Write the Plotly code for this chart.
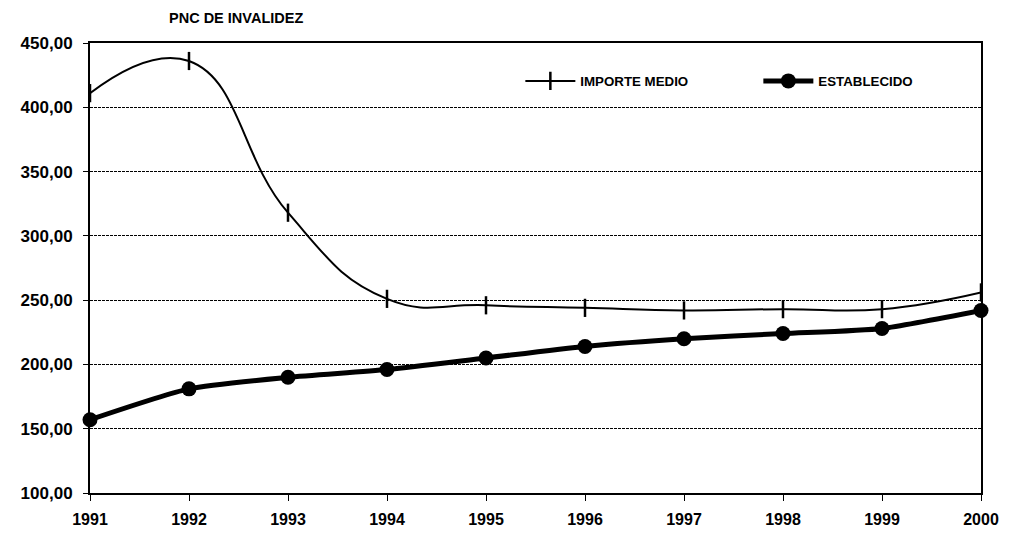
import plotly.graph_objects as go

years = [1991, 1992, 1993, 1994, 1995, 1996, 1997, 1998, 1999, 2000]
importe_medio = [411, 436, 318, 251, 246, 244, 242, 243, 243, 256]
establecido = [157, 181, 190, 196, 205, 214, 220, 224, 228, 242]
y_ticks = [100, 150, 200, 250, 300, 350, 400, 450]

FONT = "Liberation Sans, Arial"

fig = go.Figure()
fig.add_trace(go.Scatter(
    x=years, y=importe_medio, name="<b>IMPORTE MEDIO</b>",
    mode="lines+markers",
    line=dict(color="black", width=2, shape="spline", smoothing=1.3),
    marker=dict(symbol="line-ns", size=13, color="black",
                line=dict(color="black", width=2.5)),
    cliponaxis=False,
))
fig.add_trace(go.Scatter(
    x=years, y=establecido, name="<b>ESTABLECIDO</b>",
    mode="lines+markers",
    line=dict(color="black", width=5, shape="spline", smoothing=0.6),
    marker=dict(symbol="circle", size=15, color="black"),
    cliponaxis=False,
))

fig.update_layout(
    width=1025, height=535,
    margin=dict(l=82, r=52, t=35, b=50, autoexpand=False),
    paper_bgcolor="white", plot_bgcolor="white",
    showlegend=True,
    legend=dict(orientation="h", x=0.483, y=0.915, xanchor="left", yanchor="middle",
                font=dict(family=FONT, size=13.3, color="black"),
                bgcolor="rgba(0,0,0,0)", entrywidth=173, itemwidth=50),
    title=dict(text="<b>PNC DE INVALIDEZ</b>", xref="container", x=161/1025, xanchor="left",
               yref="container", y=1-10/535, yanchor="middle",
               font=dict(family=FONT, size=14.5, color="black")),
)
fig.update_xaxes(
    range=[1991, 2000], tickmode="array", tickvals=years,
    ticktext=[f"<b>{y}</b>" for y in years],
    showgrid=False, zeroline=False,
    showline=True, linecolor="black", linewidth=2, mirror=True,
    ticks="outside", ticklen=6, tickwidth=1, tickcolor="black",
    tickfont=dict(family=FONT, size=16, color="black"),
    ticklabelstandoff=5,
)
fig.update_yaxes(
    range=[100, 450], tickmode="array", tickvals=y_ticks,
    ticktext=[f"<b>{v:.2f}</b>".replace(".", ",") for v in y_ticks],
    showgrid=True, gridcolor="black", gridwidth=1, griddash="3px,1px",
    zeroline=False,
    showline=True, linecolor="black", linewidth=2, mirror=True,
    ticks="outside", ticklen=5, tickwidth=1, tickcolor="black",
    tickfont=dict(family=FONT, size=17, color="black"),
    ticklabelstandoff=7,
)

fig.write_html("out.html")
